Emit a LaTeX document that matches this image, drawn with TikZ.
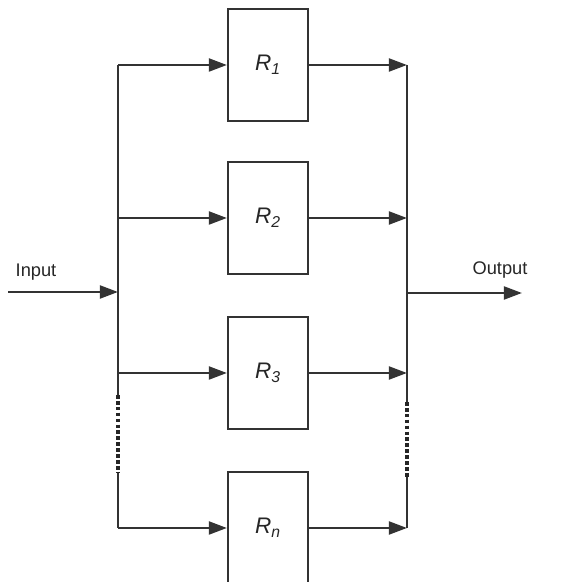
\documentclass[tikz,border=0pt]{standalone}
\usepackage{fontspec}
\setmainfont{Liberation Sans}
\usetikzlibrary{arrows.meta}
\begin{document}
\begin{tikzpicture}[x=0.025cm, y=-0.025cm,
    unit/.style={draw=black!80, line width=1.5pt, minimum width=2cm, minimum height=2.8cm,
      inner sep=0pt, text=black!85, font=\fontsize{16}{18}\selectfont\itshape},
    wire/.style={draw=black!80, line width=1.8pt},
    flow/.style={wire, -{Triangle[length=4.5mm, width=3.2mm]}},
    gap/.style={draw=black!85, line width=2.2pt, dash pattern=on 2.6pt off 1.6pt},
    tag/.style={text=black!85, font=\fontsize{13}{15}\selectfont}]
    \useasboundingbox (0,0) rectangle (587,582);
    % Units in parallel
    \node[unit] (r1) at (268,65)  {R\textsubscript{1}};
    \node[unit] (r2) at (268,218) {R\textsubscript{2}};
    \node[unit] (r3) at (268,373) {R\textsubscript{3}};
    \node[unit] (rn) at (268,528) {R\textsubscript{n}};
    % Left bus
    \coordinate (a1) at (118,65);
    \coordinate (a2) at (118,218);
    \coordinate (ai) at (118,292);
    \coordinate (a3) at (118,373);
    \coordinate (ad) at (118,395);
    \coordinate (ae) at (118,472);
    \coordinate (an) at (118,528);
    % Right bus
    \coordinate (b1) at (407,65);
    \coordinate (b2) at (407,218);
    \coordinate (bo) at (407,293);
    \coordinate (b3) at (407,373);
    \coordinate (bd) at (407,402);
    \coordinate (be) at (407,477);
    \coordinate (bn) at (407,528);
    % Input and output
    \coordinate (in)  at (8,292);
    \coordinate (out) at (522,293);
    \node[tag] (inlabel)  at (36,272)  {Input};
    \node[tag] (outlabel) at (500,270) {Output};
    % Buses
    \draw[wire] (a1)--(ad) (ae)--(an);
    \draw[gap]  (ad)--(ae);
    \draw[wire] (b1)--(bd) (be)--(bn);
    \draw[gap]  (bd)--(be);
    % Branches into the units
    \draw[flow] (a1)--(r1.west);
    \draw[flow] (a2)--(r2.west);
    \draw[flow] (a3)--(r3.west);
    \draw[flow] (an)--(rn.west);
    % Branches out of the units
    \draw[flow] (r1.east)--(b1);
    \draw[flow] (r2.east)--(b2);
    \draw[flow] (r3.east)--(b3);
    \draw[flow] (rn.east)--(bn);
    % Input and output lines
    \draw[flow] (in)--(ai);
    \draw[flow] (bo)--(out);
\end{tikzpicture}
\end{document}
